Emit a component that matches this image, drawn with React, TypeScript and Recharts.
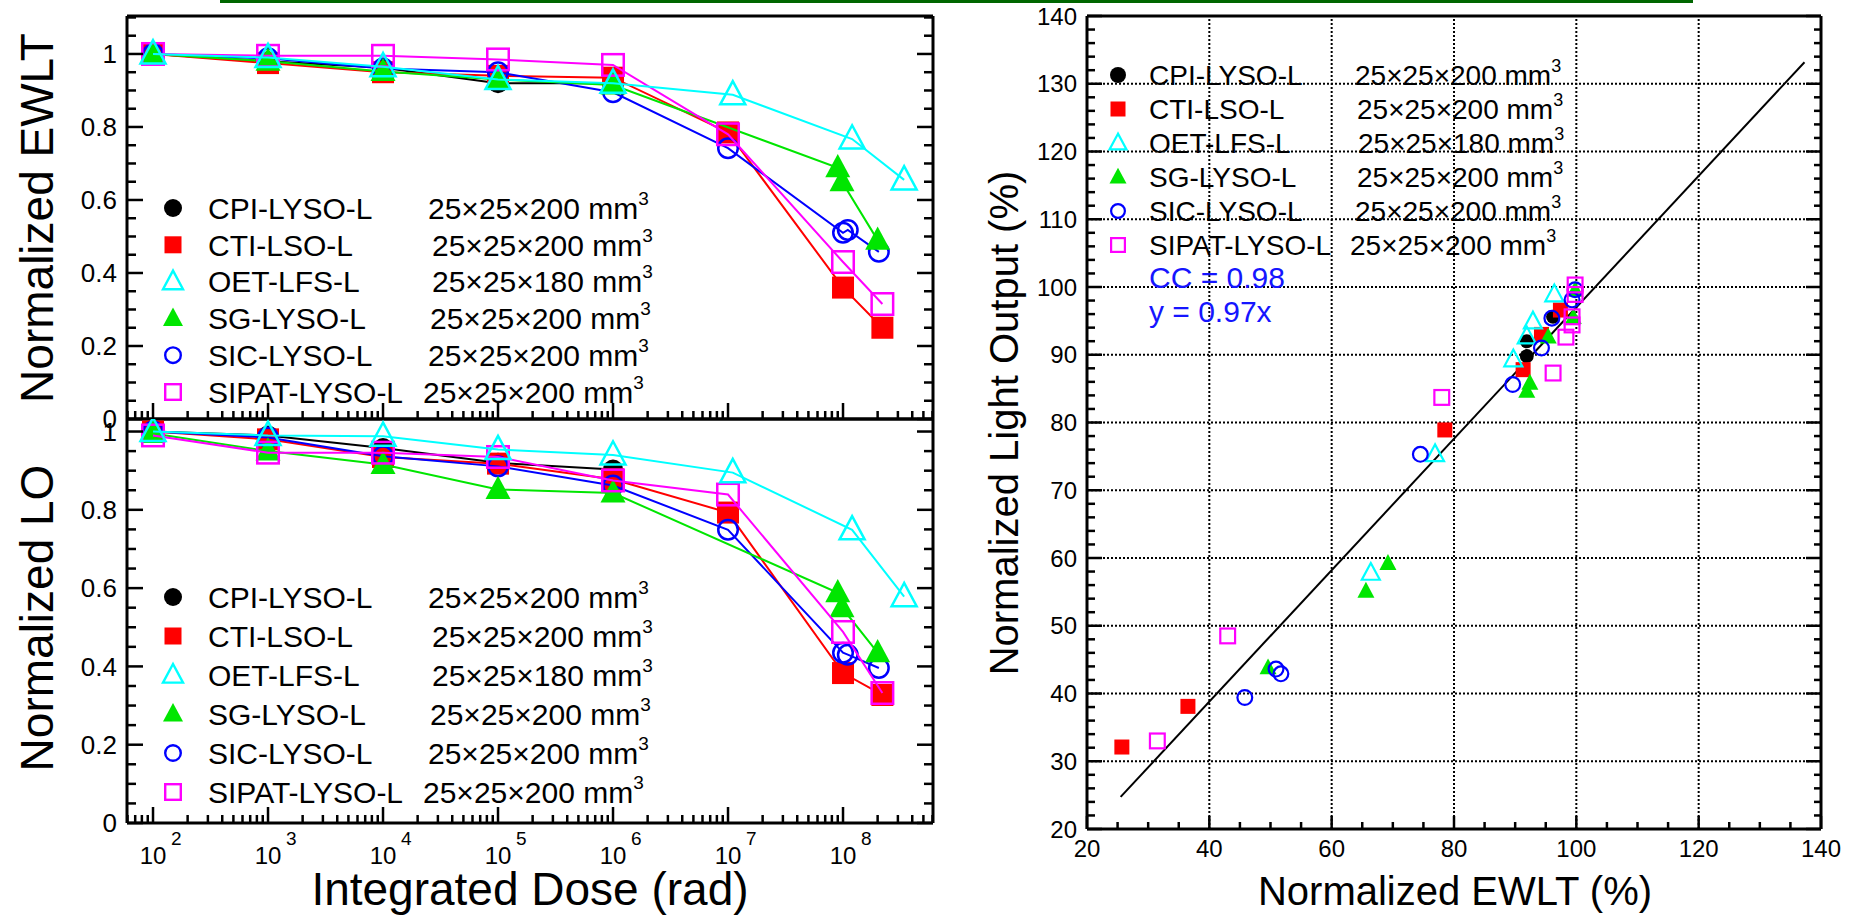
import React from "react";
import { ScatterChart, Scatter, XAxis, YAxis, ReferenceLine } from "recharts";

const FONT = '"Liberation Sans", Arial, Helvetica, sans-serif';

// crystals and their sizes (mm)
const CRYSTALS = ["CPI-LYSO-L", "CTI-LSO-L", "OET-LFS-L", "SG-LYSO-L", "SIC-LYSO-L", "SIPAT-LYSO-L"];
const DIMENSIONS = ["25×25×200", "25×25×200", "25×25×180", "25×25×200", "25×25×200", "25×25×200"];

// integrated dose (rad) of each step
const DOSE_CPI = [1e2, 1e3, 1e4, 1e5, 1e6];
const DOSE_CTI = [1e2, 1e3, 1e4, 1e5, 1e6, 1e7, 1e8, 2.2e8];
const DOSE_OET = [1e2, 1e3, 1e4, 1e5, 1e6, 1.1e7, 1.2e8, 3.4e8];
const DOSE_SG = [1e2, 1e3, 1e4, 1e5, 1e6, 9e7, 9.8e7, 2e8];
const DOSE_SIC = [1e2, 1e3, 1e4, 1e5, 1e6, 1e7, 1e8, 1.1e8, 2.05e8];
const DOSE_SIPAT = [1e2, 1e3, 1e4, 1e5, 1e6, 1e7, 1e8, 2.2e8];

// normalized EWLT
const EWLT_CPI = [1, 0.98, 0.962, 0.92, 0.92];
const EWLT_CTI = [1, 0.975, 0.95, 0.94, 0.935, 0.785, 0.36, 0.25];
const EWLT_OET = [1, 0.99, 0.965, 0.93, 0.92, 0.888, 0.767, 0.655];
const EWLT_SG = [1, 0.98, 0.952, 0.93, 0.915, 0.688, 0.65, 0.49];
const EWLT_SIC = [1, 0.988, 0.96, 0.95, 0.895, 0.742, 0.51, 0.518, 0.458];
const EWLT_SIPAT = [1, 0.995, 0.995, 0.985, 0.97, 0.78, 0.43, 0.315];

// normalized LO
const LO_CPI = [1, 0.99, 0.958, 0.92, 0.903];
const LO_CTI = [1, 0.98, 0.935, 0.918, 0.878, 0.793, 0.383, 0.327];
const LO_OET = [1, 0.99, 0.988, 0.954, 0.94, 0.895, 0.749, 0.578];
const LO_SG = [0.995, 0.95, 0.916, 0.852, 0.843, 0.588, 0.55, 0.435];
const LO_SIC = [1, 0.985, 0.937, 0.911, 0.862, 0.749, 0.435, 0.43, 0.396];
const LO_SIPAT = [0.99, 0.946, 0.946, 0.935, 0.875, 0.839, 0.488, 0.332];

// correlation plot: EWLT (%) vs light output (%)
const SC_EWLT_CPI = [96.2, 91.9, 91.9];
const SC_LO_CPI = [95.6, 92.0, 89.8];
const SC_EWLT_CTI = [97.4, 94.3, 91.3, 78.5, 36.5, 25.7];
const SC_LO_CTI = [96.6, 93.0, 87.8, 78.9, 38.1, 32.1];
const SC_EWLT_OET = [96.4, 92.9, 91.9, 89.7, 76.9, 66.4];
const SC_LO_OET = [98.9, 94.9, 92.7, 89.3, 75.3, 57.8];
const SC_EWLT_SG = [99.8, 99.5, 95.4, 92.4, 91.9, 69.2, 65.6, 49.6];
const SC_LO_SG = [99.5, 95.5, 92.6, 85.8, 84.6, 59.2, 55.1, 43.8];
const SC_EWLT_SIC = [99.8, 99.3, 96.0, 94.3, 89.6, 74.5, 50.9, 51.7, 45.8];
const SC_LO_SIC = [99.6, 98.1, 95.4, 91.0, 85.6, 75.3, 43.6, 42.9, 39.4];
const SC_EWLT_SIPAT = [99.8, 99.8, 99.3, 99.3, 98.3, 96.2, 78.0, 43.0, 31.5];
const SC_LO_SIPAT = [100.3, 98.9, 95.6, 94.4, 92.6, 87.3, 83.7, 48.5, 33.0];

// linear fit y = 0.97x
const FIT_SLOPE = 0.97;
const FIT_X = [25.5, 137.3];

// axes
const DOSE_DOMAIN: [number, number] = [59.4, 6.06e8];
const DOSE_MAJOR = [1e2, 1e3, 1e4, 1e5, 1e6, 1e7, 1e8];
const FRAC_MAJOR = [0, 0.2, 0.4, 0.6, 0.8, 1];
const PCT_X_MAJOR = [20, 40, 60, 80, 100, 120, 140];
const PCT_Y_MAJOR = [20, 30, 40, 50, 60, 70, 80, 90, 100, 110, 120, 130, 140];

const range = (a: number, b: number, step: number) => {
  const out: number[] = [];
  for (let i = 0; a + i * step <= b + 1e-9; i++) out.push(+(a + i * step).toFixed(4));
  return out;
};
const DOSE_TICKS = [1, 2, 3, 4, 5, 6, 7, 8]
  .flatMap((d) => [1, 2, 3, 4, 5, 6, 7, 8, 9].map((k) => k * Math.pow(10, d)))
  .filter((v) => v >= DOSE_DOMAIN[0] && v <= DOSE_DOMAIN[1]);

const COLORS = ["#000000", "#ff0000", "#00ffff", "#00e600", "#0000ff", "#ff00ff"];
type Kind = "disc" | "square" | "triangleOpen" | "triangle" | "circleOpen" | "squareOpen";
const MARKERS: Kind[] = ["disc", "square", "triangleOpen", "triangle", "circleOpen", "squareOpen"];

const DOSE = [DOSE_CPI, DOSE_CTI, DOSE_OET, DOSE_SG, DOSE_SIC, DOSE_SIPAT];
const EWLT = [EWLT_CPI, EWLT_CTI, EWLT_OET, EWLT_SG, EWLT_SIC, EWLT_SIPAT];
const LO = [LO_CPI, LO_CTI, LO_OET, LO_SG, LO_SIC, LO_SIPAT];
const SC_X = [SC_EWLT_CPI, SC_EWLT_CTI, SC_EWLT_OET, SC_EWLT_SG, SC_EWLT_SIC, SC_EWLT_SIPAT];
const SC_Y = [SC_LO_CPI, SC_LO_CTI, SC_LO_OET, SC_LO_SG, SC_LO_SIC, SC_LO_SIPAT];

const pts = (xs: number[], ys: number[]) => xs.map((x, i) => ({ x, y: ys[i] }));

const DOSE_SIZES: Record<Kind, number> = { disc: 20, square: 22, triangleOpen: 25, triangle: 25, circleOpen: 22, squareOpen: 24 };
const SC_SIZES: Record<Kind, number> = { disc: 14, square: 15, triangleOpen: 18, triangle: 17, circleOpen: 17, squareOpen: 17 };
const LEG_L_SIZES: Record<Kind, number> = { disc: 18, square: 17, triangleOpen: 20, triangle: 20, circleOpen: 18, squareOpen: 18 };
const LEG_R_SIZES: Record<Kind, number> = { disc: 16, square: 15, triangleOpen: 17, triangle: 17, circleOpen: 16, squareOpen: 16 };

function Marker({ kind, cx, cy, size, color, sw }: { kind: Kind; cx?: number; cy?: number; size: number; color: string; sw: number }) {
  if (cx == null || cy == null) return null;
  const h = size / 2;
  const tri = `${cx},${cy - 0.55 * size} ${cx - h},${cy + 0.38 * size} ${cx + h},${cy + 0.38 * size}`;
  switch (kind) {
    case "disc":
      return <circle cx={cx} cy={cy} r={h} fill={color} />;
    case "circleOpen":
      return <circle cx={cx} cy={cy} r={h - sw / 2} fill="none" stroke={color} strokeWidth={sw} />;
    case "square":
      return <rect x={cx - h} y={cy - h} width={size} height={size} fill={color} />;
    case "squareOpen":
      return <rect x={cx - h + sw / 2} y={cy - h + sw / 2} width={size - sw} height={size - sw} fill="none" stroke={color} strokeWidth={sw} />;
    case "triangle":
      return <polygon points={tri} fill={color} />;
    default:
      return <polygon points={tri} fill="none" stroke={color} strokeWidth={sw} strokeLinejoin="miter" />;
  }
}

type Side = "left" | "right" | "top" | "bottom";
function tickRenderer(side: Side, majors: number[], longLen: number, shortLen: number, label?: (v: number, x: number, y: number) => React.ReactNode) {
  return (props: any) => {
    const { x, y, payload } = props;
    const v = payload.value as number;
    const major = majors.some((m) => Math.abs(m - v) <= Math.abs(m) * 1e-6 + 1e-9);
    const len = major ? longLen : shortLen;
    const x2 = side === "left" ? x + len : side === "right" ? x - len : x;
    const y2 = side === "top" ? y + len : side === "bottom" ? y - len : y;
    return (
      <g>
        <line x1={x} y1={y} x2={x2} y2={y2} stroke="#000" strokeWidth={2.5} />
        {major && label ? label(v, x, y) : null}
      </g>
    );
  };
}

const doseLabel = (v: number, x: number, y: number) => (
  <g>
    <text x={x} y={y + 41} textAnchor="middle" fontSize={24} fill="#000">10</text>
    <text x={x + 18} y={y + 22} fontSize={19} fill="#000">{Math.round(Math.log10(v))}</text>
  </g>
);
const fracLabel = (v: number, x: number, y: number) => (
  <text x={x - 10} y={y} dy="0.36em" textAnchor="end" fontSize={26} fill="#000">{String(v)}</text>
);
const pctYLabel = (v: number, x: number, y: number) => (
  <text x={x - 10} y={y} dy="0.36em" textAnchor="end" fontSize={24} fill="#000">{String(v)}</text>
);
const pctXLabel = (v: number, x: number, y: number) => (
  <text x={x} y={y + 28} textAnchor="middle" fontSize={24} fill="#000">{String(v)}</text>
);

const AXIS = { stroke: "#000", strokeWidth: 3 };
const ORDER_DOSE = [0, 1, 4, 3, 5, 2];

function DosePanel({ values, yMax, yTicks, height, marginTop, bottomH, labels }: {
  values: number[][]; yMax: number; yTicks: number[]; height: number; marginTop: number; bottomH: number; labels: boolean;
}) {
  return (
    <ScatterChart width={950} height={height} margin={{ top: marginTop, right: 7, bottom: height === 440 ? 11 : 0, left: 67 }}>
      <XAxis type="number" dataKey="x" scale="log" domain={DOSE_DOMAIN} allowDataOverflow ticks={DOSE_TICKS} interval={0}
        tickSize={0} tickMargin={0} tickLine={false} axisLine={AXIS} height={bottomH}
        tick={tickRenderer("bottom", DOSE_MAJOR, 16, 8, labels ? doseLabel : undefined)} />
      <XAxis xAxisId="top" orientation="top" type="number" scale="log" domain={DOSE_DOMAIN} allowDataOverflow ticks={DOSE_TICKS}
        interval={0} tickSize={0} tickMargin={0} tickLine={false} axisLine={AXIS} height={10}
        tick={tickRenderer("top", DOSE_MAJOR, 16, 8)} />
      <YAxis type="number" dataKey="y" domain={[0, yMax]} allowDataOverflow ticks={yTicks} interval={0}
        tickSize={0} tickMargin={0} tickLine={false} axisLine={AXIS} width={60}
        tick={tickRenderer("left", FRAC_MAJOR, 16, 9, fracLabel)} />
      <YAxis yAxisId="right" orientation="right" type="number" domain={[0, yMax]} allowDataOverflow ticks={yTicks} interval={0}
        tickSize={0} tickMargin={0} tickLine={false} axisLine={AXIS} width={10}
        tick={tickRenderer("right", FRAC_MAJOR, 16, 9)} />
      {ORDER_DOSE.map((i) => (
        <Scatter key={CRYSTALS[i]} name={CRYSTALS[i]} data={pts(DOSE[i], values[i])} fill={COLORS[i]}
          line={{ stroke: COLORS[i], strokeWidth: 2 }} lineType="joint" isAnimationActive={false}
          shape={(p: any) => <Marker kind={MARKERS[i]} cx={p.cx} cy={p.cy} size={DOSE_SIZES[MARKERS[i]]} color={COLORS[i]} sw={2.5} />} />
      ))}
    </ScatterChart>
  );
}

const GRID = { stroke: "#000", strokeWidth: 2, strokeDasharray: "2 2" };

function CorrelationPanel() {
  const pctX = range(20, 140, 5);
  const pctY = range(20, 140, 2);
  return (
    <ScatterChart width={914} height={923} margin={{ top: 6, right: 23, bottom: 0, left: 67 }}>
      <XAxis type="number" dataKey="x" domain={[20, 140]} allowDataOverflow ticks={pctX} interval={0}
        tickSize={0} tickMargin={0} tickLine={false} axisLine={AXIS} height={94}
        tick={tickRenderer("bottom", PCT_X_MAJOR, 13, 7, pctXLabel)} />
      <XAxis xAxisId="top" orientation="top" type="number" domain={[20, 140]} allowDataOverflow ticks={pctX} interval={0}
        tickSize={0} tickMargin={0} tickLine={false} axisLine={AXIS} height={10}
        tick={tickRenderer("top", PCT_X_MAJOR, 13, 7)} />
      <YAxis type="number" dataKey="y" domain={[20, 140]} allowDataOverflow ticks={pctY} interval={0}
        tickSize={0} tickMargin={0} tickLine={false} axisLine={AXIS} width={80}
        tick={tickRenderer("left", PCT_Y_MAJOR, 15, 8, pctYLabel)} />
      <YAxis yAxisId="right" orientation="right" type="number" domain={[20, 140]} allowDataOverflow ticks={pctY} interval={0}
        tickSize={0} tickMargin={0} tickLine={false} axisLine={AXIS} width={10}
        tick={tickRenderer("right", PCT_Y_MAJOR, 15, 7)} />
      {PCT_X_MAJOR.slice(1, -1).map((v) => (
        <ReferenceLine key={`gx${v}`} x={v} {...GRID} />
      ))}
      {PCT_Y_MAJOR.slice(1, -1).map((v) => (
        <ReferenceLine key={`gy${v}`} y={v} {...GRID} />
      ))}
      <ReferenceLine
        segment={[{ x: FIT_X[0], y: FIT_SLOPE * FIT_X[0] }, { x: FIT_X[1], y: FIT_SLOPE * FIT_X[1] }]}
        stroke="#000" strokeWidth={2} />
      {CRYSTALS.map((name, i) => (
        <Scatter key={name} name={name} data={pts(SC_X[i], SC_Y[i])} fill={COLORS[i]} isAnimationActive={false}
          shape={(p: any) => <Marker kind={MARKERS[i]} cx={p.cx} cy={p.cy} size={SC_SIZES[MARKERS[i]]} color={COLORS[i]} sw={2.2} />} />
      ))}
    </ScatterChart>
  );
}

function LegendBlock({ y0, step, markerX, textX, dimsX, fontSize, supSize, supDy, sizes, sw }: {
  y0: number; step: number; markerX: number; textX: number; dimsX: number[]; fontSize: number; supSize: number; supDy: number;
  sizes: Record<Kind, number>; sw: number;
}) {
  return (
    <g>
      {CRYSTALS.map((name, i) => {
        const cy = y0 + i * step;
        const base = cy + fontSize * 0.358;
        return (
          <g key={name}>
            <Marker kind={MARKERS[i]} cx={markerX} cy={cy} size={sizes[MARKERS[i]]} color={COLORS[i]} sw={sw} />
            <text x={textX} y={base} fontSize={fontSize} fill="#000">{name}</text>
            <text x={dimsX[i]} y={base} fontSize={fontSize} fill="#000">
              {DIMENSIONS[i]} mm<tspan fontSize={supSize} dy={supDy}>3</tspan>
            </text>
          </g>
        );
      })}
    </g>
  );
}

function Overlay() {
  return (
    <svg width={1854} height={923} style={{ position: "absolute", left: 0, top: 0, pointerEvents: "none" }}>
      <text x={36} y={218} fontSize={46} textAnchor="middle" dy="0.36em" transform="rotate(-90 36 218)">Normalized EWLT</text>
      <text x={36} y={618} fontSize={46} textAnchor="middle" dy="0.36em" transform="rotate(-90 36 618)">Normalized LO</text>
      <text x={530} y={905} fontSize={46} textAnchor="middle">Integrated Dose (rad)</text>
      <text x={1004} y={423} fontSize={40} textAnchor="middle" dy="0.36em" transform="rotate(-90 1004 423)">Normalized Light Output (%)</text>
      <text x={1455} y={905} fontSize={40} textAnchor="middle">Normalized EWLT (%)</text>

      <LegendBlock y0={208} step={36.8} markerX={173} textX={208} dimsX={[428, 432, 432, 430, 428, 423]}
        fontSize={30} supSize={19} supDy={-14} sizes={LEG_L_SIZES} sw={2.4} />
      <LegendBlock y0={597} step={39} markerX={173} textX={208} dimsX={[428, 432, 432, 430, 428, 423]}
        fontSize={30} supSize={19} supDy={-14} sizes={LEG_L_SIZES} sw={2.4} />
      <LegendBlock y0={75} step={34} markerX={1118} textX={1149} dimsX={[1355, 1357, 1358, 1357, 1355, 1350]}
        fontSize={28} supSize={18} supDy={-13} sizes={LEG_R_SIZES} sw={2.2} />
      <text x={1149} y={288} fontSize={30} fill="#1515ff">CC = 0.98</text>
      <text x={1149} y={322} fontSize={30} fill="#1515ff">y = 0.97x</text>
    </svg>
  );
}

export default function App() {
  return (
    <div style={{ position: "absolute", left: 0, top: 0, width: 1854, height: 923, background: "#fff", overflow: "hidden", fontFamily: FONT }}>
      <div style={{ position: "absolute", left: 220, top: 0, width: 1473, height: 3, background: "#006600" }} />
      <div style={{ position: "absolute", left: 0, top: 0 }}>
        <DosePanel values={EWLT} yMax={1.104} yTicks={range(0, 1.1, 0.05)} height={440} marginTop={6} bottomH={10} labels={false} />
      </div>
      <div style={{ position: "absolute", left: 0, top: 400 }}>
        <DosePanel values={LO} yMax={1.032} yTicks={range(0, 1, 0.05)} height={523} marginTop={9} bottomH={100} labels />
      </div>
      <div style={{ position: "absolute", left: 940, top: 0 }}>
        <CorrelationPanel />
      </div>
      <Overlay />
    </div>
  );
}
